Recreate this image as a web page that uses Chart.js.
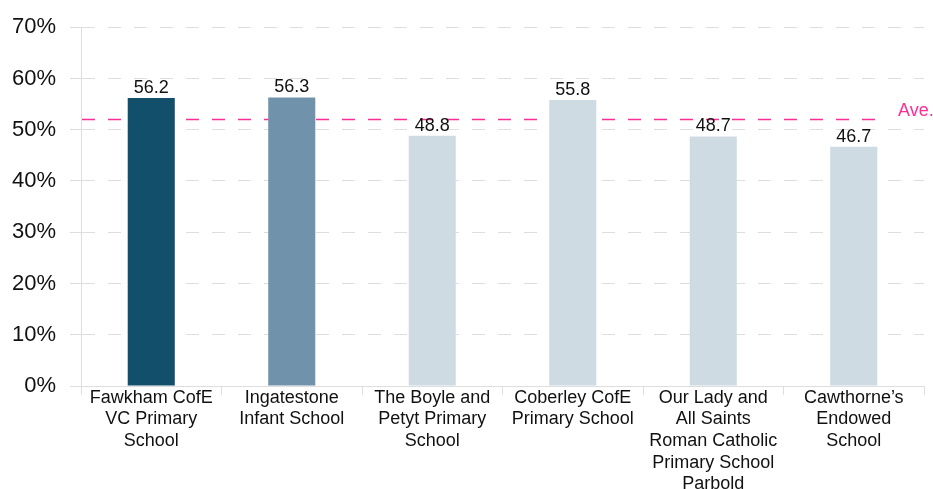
<!DOCTYPE html>
<html>
<head>
<meta charset="utf-8">
<script src="https://cdn.jsdelivr.net/npm/chart.js@4.4.1/dist/chart.umd.min.js"></script>
<style>
    html, body { margin: 0; padding: 0; background: #ffffff; overflow: hidden; }
    #wrap { width: 933px; height: 489px; }
</style>
</head>
<body>
<div id="wrap"><canvas id="chart" width="933" height="489"></canvas></div>
<script>
const schools = [
    ['Fawkham CofE', 'VC Primary', 'School'],
    ['Ingatestone', 'Infant School'],
    ['The Boyle and', 'Petyt Primary', 'School'],
    ['Coberley CofE', 'Primary School'],
    ['Our Lady and', 'All Saints', 'Roman Catholic', 'Primary School', 'Parbold'],
    ['Cawthorne\u2019s', 'Endowed', 'School']
];
const scores = [56.2, 56.3, 48.8, 55.8, 48.7, 46.7];
const barColors = ['#124f6b', '#7093ab', '#cfdbe3', '#cfdbe3', '#cfdbe3', '#cfdbe3'];
const average = 52;
const averageLabel = 'Ave.';
const yTicks = [0, 10, 20, 30, 40, 50, 60, 70];

const FONT = "'Liberation Sans', Arial, sans-serif";
const GRID = '#dedede';
const PINK = '#ff2d95';

// value labels above each bar
const valueLabels = {
    id: 'valueLabels',
    afterDatasetsDraw(chart) {
        const ctx = chart.ctx;
        const meta = chart.getDatasetMeta(0);
        ctx.save();
        ctx.font = '18px ' + FONT;
        ctx.fillStyle = '#111111';
        ctx.textAlign = 'center';
        ctx.textBaseline = 'bottom';
        meta.data.forEach((bar, i) => {
            ctx.fillText(scores[i].toFixed(1), bar.x, bar.y - 1);
        });
        ctx.restore();
    }
};

// dashed average line, sits behind the bars
const averageLine = {
    id: 'averageLine',
    beforeDatasetsDraw(chart) {
        const ctx = chart.ctx;
        const area = chart.chartArea;
        const y = Math.round(chart.scales.y.getPixelForValue(average)) + 0.5;
        ctx.save();
        ctx.strokeStyle = PINK;
        ctx.lineWidth = 1.5;
        ctx.setLineDash([13, 13]);
        ctx.beginPath();
        ctx.moveTo(area.left + 1, y);
        ctx.lineTo(area.right - 36, y);
        ctx.stroke();
        ctx.setLineDash([]);
        ctx.font = '18px ' + FONT;
        ctx.fillStyle = PINK;
        ctx.textAlign = 'left';
        ctx.textBaseline = 'bottom';
        ctx.fillText(averageLabel, area.right - 26, y + 1);
        ctx.restore();
    }
};

new Chart(document.getElementById('chart'), {
    type: 'bar',
    data: {
        labels: schools,
        datasets: [{
            data: scores,
            backgroundColor: barColors,
            barPercentage: 0.335,
            categoryPercentage: 1.0
        }]
    },
    options: {
        responsive: false,
        animation: false,
        devicePixelRatio: 1,
        layout: { padding: { top: 16, right: 9, left: 0, bottom: 0 } },
        plugins: {
            legend: { display: false },
            tooltip: { enabled: false }
        },
        scales: {
            x: {
                offset: true,
                afterFit(scale) { scale.height = 103; },
                grid: {
                    offset: true,
                    drawOnChartArea: false,
                    color: GRID,
                    tickLength: 9
                },
                border: { color: GRID },
                ticks: {
                    color: '#111111',
                    font: { family: FONT, size: 18, lineHeight: 1.2 },
                    maxRotation: 0,
                    autoSkip: false,
                    padding: -8
                }
            },
            y: {
                min: 0,
                max: 70,
                afterFit(scale) { scale.width = 81; },
                afterBuildTicks(scale) {
                    scale.ticks = yTicks.map(v => ({ value: v }));
                },
                grid: {
                    color: GRID,
                    tickLength: 11,
                    tickColor: GRID
                },
                border: { color: GRID, dash: [13, 13] },
                ticks: {
                    color: '#111111',
                    font: { family: FONT, size: 22 },
                    padding: 14,
                    callback: v => v + '%'
                }
            }
        }
    },
    plugins: [valueLabels, averageLine]
});
</script>
</body>
</html>
